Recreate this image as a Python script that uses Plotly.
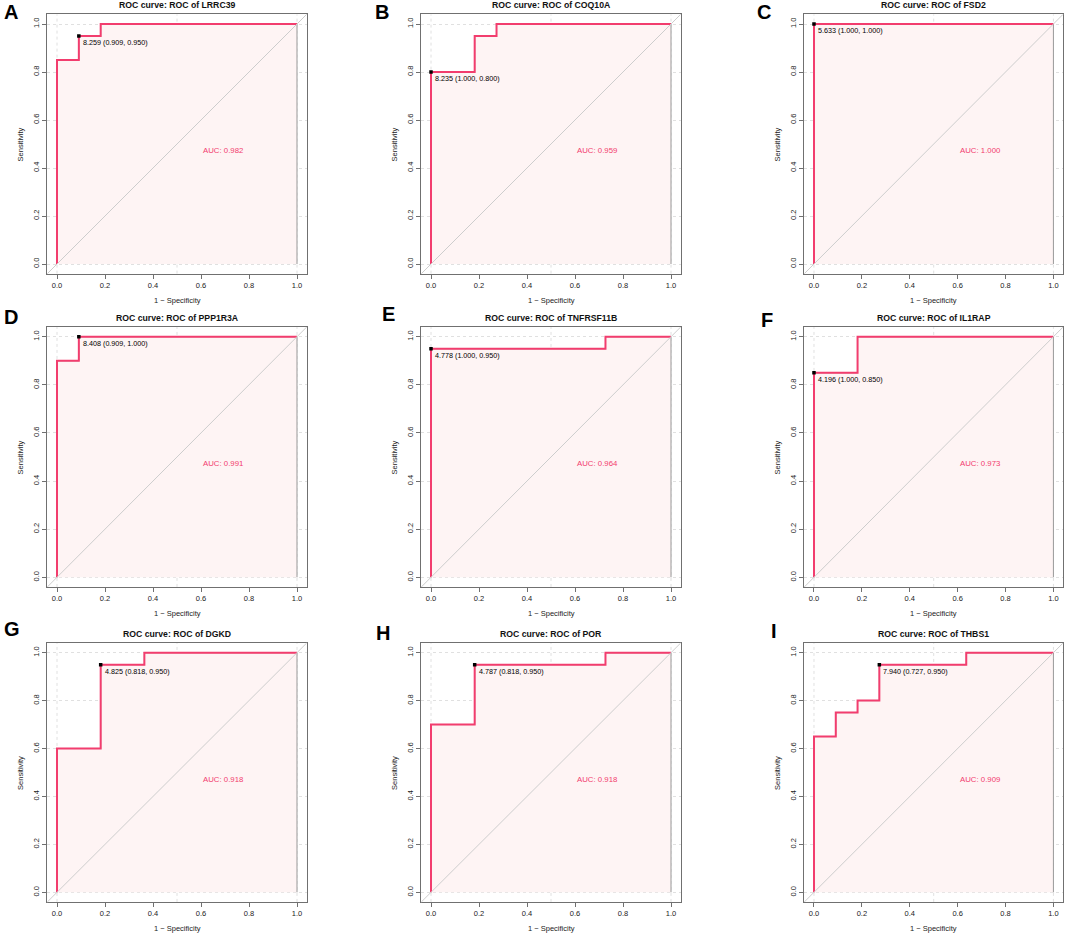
import plotly.graph_objects as go

# ---------------- data ----------------
letters = ["A", "B", "C", "D", "E", "F", "G", "H", "I"]
genes = ["LRRC39", "COQ10A", "FSD2", "PPP1R3A", "TNFRSF11B", "IL1RAP", "DGKD", "POR", "THBS1"]
auc_values = [0.982, 0.959, 1.000, 0.991, 0.964, 0.973, 0.918, 0.918, 0.909]
best_thresholds = [8.259, 8.235, 5.633, 8.408, 4.778, 4.196, 4.825, 4.787, 7.940]
best_specificity = [0.909, 1.000, 1.000, 0.909, 1.000, 1.000, 0.818, 0.818, 0.727]
best_sensitivity = [0.950, 0.800, 1.000, 1.000, 0.950, 0.850, 0.950, 0.950, 0.950]

# ROC step curves: 1 - specificity (x) and sensitivity (y)
fpr_LRRC39 = [0, 0, 0.091, 0.091, 0.182, 0.182, 1]
tpr_LRRC39 = [0, 0.85, 0.85, 0.95, 0.95, 1, 1]
fpr_COQ10A = [0, 0, 0.182, 0.182, 0.273, 0.273, 1]
tpr_COQ10A = [0, 0.80, 0.80, 0.95, 0.95, 1, 1]
fpr_FSD2 = [0, 0, 1]
tpr_FSD2 = [0, 1, 1]
fpr_PPP1R3A = [0, 0, 0.091, 0.091, 1]
tpr_PPP1R3A = [0, 0.90, 0.90, 1, 1]
fpr_TNFRSF11B = [0, 0, 0.727, 0.727, 1]
tpr_TNFRSF11B = [0, 0.95, 0.95, 1, 1]
fpr_IL1RAP = [0, 0, 0.182, 0.182, 1]
tpr_IL1RAP = [0, 0.85, 0.85, 1, 1]
fpr_DGKD = [0, 0, 0.182, 0.182, 0.364, 0.364, 1]
tpr_DGKD = [0, 0.60, 0.60, 0.95, 0.95, 1, 1]
fpr_POR = [0, 0, 0.182, 0.182, 0.727, 0.727, 1]
tpr_POR = [0, 0.70, 0.70, 0.95, 0.95, 1, 1]
fpr_THBS1 = [0, 0, 0.091, 0.091, 0.182, 0.182, 0.273, 0.273, 0.636, 0.636, 1]
tpr_THBS1 = [0, 0.65, 0.65, 0.75, 0.75, 0.80, 0.80, 0.95, 0.95, 1, 1]

fpr_list = [fpr_LRRC39, fpr_COQ10A, fpr_FSD2, fpr_PPP1R3A, fpr_TNFRSF11B,
            fpr_IL1RAP, fpr_DGKD, fpr_POR, fpr_THBS1]
tpr_list = [tpr_LRRC39, tpr_COQ10A, tpr_FSD2, tpr_PPP1R3A, tpr_TNFRSF11B,
            tpr_IL1RAP, tpr_DGKD, tpr_POR, tpr_THBS1]

tick_vals = [0, 0.2, 0.4, 0.6, 0.8, 1.0]
tick_text = ["0.0", "0.2", "0.4", "0.6", "0.8", "1.0"]
vgrid_vals = [0, 0.5, 1.0]

# ---------------- layout geometry (px) ----------------
W, H = 1065, 935
col_left = [47.4, 421.4, 804.4]
col_right = [306.6, 680.6, 1063.0]
row_top = [14.4, 327.1, 643.1]
row_bottom = [273.6, 586.9, 901.9]
letter_pos = [(2, 12), (373, 11.5), (755, 11.5),
              (2, 317), (380, 314), (759, 320),
              (2, 629), (374, 633), (769, 631)]

CURVE = "#F23D6E"
FILL = "#FEF4F4"
BOX = "#707070"
GRID = "#E0E0E0"
FONT = "Liberation Sans, Arial, Helvetica, sans-serif"
RNG = [-0.04, 1.04]

fig = go.Figure()
annotations = []
shapes = []

for i in range(9):
    r, c = divmod(i, 3)
    xn = "x" if i == 0 else f"x{i+1}"
    yn = "y" if i == 0 else f"y{i+1}"
    xk = "xaxis" if i == 0 else f"xaxis{i+1}"
    yk = "yaxis" if i == 0 else f"yaxis{i+1}"
    fpr, tpr = fpr_list[i], tpr_list[i]

    # AUC polygon
    fig.add_trace(go.Scatter(
        x=fpr + [1], y=tpr + [0], xaxis=xn, yaxis=yn,
        mode="lines", fill="toself", fillcolor=FILL,
        line=dict(color="#999999", width=1), hoverinfo="skip", showlegend=False))
    # ROC curve
    fig.add_trace(go.Scatter(
        x=fpr, y=tpr, xaxis=xn, yaxis=yn, mode="lines",
        line=dict(color=CURVE, width=2), showlegend=False, name=genes[i]))
    # best threshold point
    bx = 1 - best_specificity[i]
    by = best_sensitivity[i]
    fig.add_trace(go.Scatter(
        x=[bx], y=[by], xaxis=xn, yaxis=yn, mode="markers",
        marker=dict(symbol="square", size=3.5, color="black"), showlegend=False))

    fig.layout[xk] = dict(
        domain=[col_left[c] / W, col_right[c] / W], range=RNG, anchor=yn,
        tickvals=tick_vals, ticktext=tick_text, ticks="outside", ticklen=4,
        tickcolor=BOX, tickwidth=1, showline=True, linecolor=BOX, linewidth=1,
        mirror=True, showgrid=False, zeroline=False,
        tickfont=dict(size=7.5, color="#222222", family=FONT), fixedrange=True)
    fig.layout[yk] = dict(
        domain=[1 - row_bottom[r] / H, 1 - row_top[r] / H], range=RNG, anchor=xn,
        tickvals=tick_vals, ticktext=tick_text, ticks="outside", ticklen=4,
        tickcolor=BOX, tickwidth=1, showline=True, linecolor=BOX, linewidth=1,
        mirror=True, showgrid=True, gridcolor=GRID, griddash="dot", gridwidth=1,
        zeroline=False, tickangle=-90,
        tickfont=dict(size=7.5, color="#222222", family=FONT), fixedrange=True)

    # vertical dotted grid
    for gv in vgrid_vals:
        shapes.append(dict(type="line", xref=xn, yref=f"{yn} domain",
                           x0=gv, x1=gv, y0=0, y1=1, layer="below",
                           line=dict(color=GRID, width=1, dash="dot")))
    # identity diagonal
    shapes.append(dict(type="line", xref=f"{xn} domain", yref=f"{yn} domain",
                       x0=0, y0=0, x1=1, y1=1, layer="above",
                       line=dict(color="#CDCDCD", width=1)))

    # title
    annotations.append(dict(
        text=f"<b>ROC curve: ROC of {genes[i]}</b>", xref=f"{xn} domain", x=0.5,
        yref=f"{yn} domain", y=1, yshift=9, yanchor="middle", xanchor="center",
        showarrow=False, font=dict(size=8.7, color="#111111", family=FONT)))
    # axis titles
    annotations.append(dict(
        text="1 − Specificity", xref=f"{xn} domain", x=0.5, yref=f"{yn} domain",
        y=0, yshift=-27, yanchor="middle", xanchor="center", showarrow=False,
        font=dict(size=7.5, color="#222222", family=FONT)))
    annotations.append(dict(
        text="Sensitivity", xref=f"{xn} domain", x=0, xshift=-27,
        yref=f"{yn} domain", y=0.5, textangle=-90, xanchor="center",
        yanchor="middle", showarrow=False,
        font=dict(size=7.5, color="#222222", family=FONT)))
    # AUC text
    annotations.append(dict(
        text=f"AUC: {auc_values[i]:.3f}", xref=xn, x=0.6, yref=yn, y=0.5,
        xanchor="left", yanchor="top", showarrow=False,
        font=dict(size=7.8, color=CURVE, family=FONT)))
    # threshold label
    annotations.append(dict(
        text=f"{best_thresholds[i]:.3f} ({best_specificity[i]:.3f}, {best_sensitivity[i]:.3f})",
        xref=xn, x=bx, yref=yn, y=by, xanchor="left", yanchor="top",
        xshift=2, yshift=0, showarrow=False,
        font=dict(size=7.2, color="#000000", family=FONT)))
    # panel letter
    lx, ly = letter_pos[i]
    annotations.append(dict(
        text=f"<b>{letters[i]}</b>", xref="paper", yref="paper",
        x=lx / W, y=1 - ly / H, xanchor="left", yanchor="middle",
        showarrow=False, font=dict(size=20, color="black", family=FONT)))

fig.update_layout(
    width=W, height=H, margin=dict(l=0, r=0, t=0, b=0),
    paper_bgcolor="white", plot_bgcolor="white",
    annotations=annotations, shapes=shapes, showlegend=False,
    font=dict(family=FONT))

fig.write_html(
    "out.html",
    config={"displayModeBar": False},
    post_script="document.body.style.margin='0';document.body.style.overflow='hidden';")
